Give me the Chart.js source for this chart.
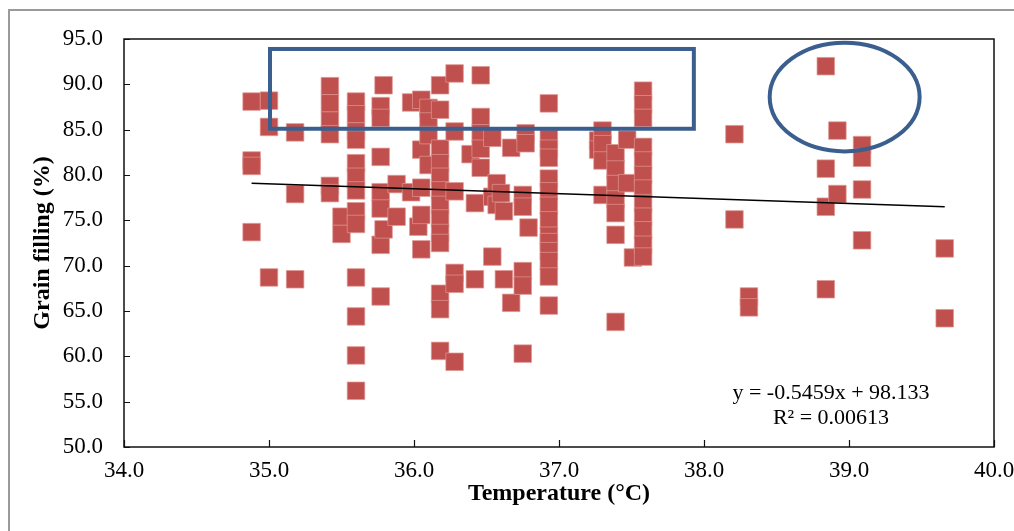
<!DOCTYPE html>
<html><head><meta charset="utf-8">
<script src="https://cdn.jsdelivr.net/npm/chart.js@4.4.0/dist/chart.umd.min.js"></script>
<style>html,body{margin:0;padding:0;background:#fff}#wrap{width:1014px;height:531px;position:relative}</style>
</head><body><div id="wrap"><canvas id="c" width="1014" height="531"></canvas></div>
<script>
// Temperature (°C) of each observation
const temperature = [
  34.88,34.88,34.88,34.88,
  35.0,35.0,35.0,
  35.18,35.18,35.18,
  35.42,35.42,35.42,35.42,35.42,35.42,
  35.5,35.5,
  35.6,35.6,35.6,35.6,35.6,35.6,35.6,35.6,35.6,35.6,35.6,35.6,35.6,
  35.77,35.77,35.77,35.77,35.77,35.77,35.77,
  35.79,35.79,
  35.88,35.88,
  35.98,35.98,
  36.03,
  36.05,36.05,36.05,36.05,36.05,
  36.1,36.1,36.1,36.1,
  36.18,36.18,36.18,36.18,36.18,36.18,36.18,36.18,36.18,36.18,36.18,36.18,36.18,
  36.28,36.28,36.28,36.28,36.28,36.28,
  36.39,
  36.42,36.42,
  36.46,36.46,36.46,36.46,36.46,
  36.54,36.54,36.54,
  36.57,36.57,
  36.6,
  36.62,36.62,
  36.67,36.67,
  36.75,36.75,36.75,36.75,36.75,
  36.77,36.77,
  36.79,
  36.93,36.93,36.93,36.93,36.93,36.93,36.93,36.93,36.93,36.93,36.93,36.93,36.93,36.93,
  37.27,37.27,
  37.3,37.3,37.3,37.3,
  37.39,37.39,37.39,37.39,37.39,37.39,37.39,
  37.47,37.47,
  37.51,
  37.58,37.58,37.58,37.58,37.58,37.58,37.58,37.58,37.58,37.58,37.58,37.58,
  38.21,38.21,
  38.31,38.31,
  38.84,38.84,38.84,38.84,
  38.92,38.92,
  39.09,39.09,39.09,39.09,
  39.66,39.66
];
// Grain filling (%) of each observation
const grainFilling = [
  88.1,81.6,81.0,73.7,
  88.2,85.3,68.7,
  84.7,77.9,68.5,
  89.8,87.9,86.0,84.5,78.8,78.0,
  75.4,73.5,
  88.1,86.7,84.8,83.9,81.3,79.8,78.3,76.0,74.6,68.7,64.4,60.1,56.2,
  87.6,86.3,82.0,78.1,76.3,72.3,66.6,
  89.9,74.0,
  79.0,75.4,
  88.0,78.1,
  74.3,
  88.3,82.8,78.6,75.6,71.8,
  87.4,85.9,84.4,81.1,
  89.9,87.2,82.9,81.3,79.8,78.3,76.7,75.2,73.6,72.5,66.9,65.2,60.6,
  91.2,84.8,78.2,69.2,68.0,59.4,
  82.3,
  76.9,68.5,
  91.0,86.4,84.6,82.9,80.8,
  84.1,77.6,71.0,
  79.1,76.7,
  78.0,
  76.0,68.5,
  83.0,65.9,
  77.8,76.5,69.4,67.8,60.3,
  84.6,83.5,
  74.2,
  87.9,84.0,82.9,81.9,79.6,78.2,76.6,75.0,73.3,72.6,71.6,70.5,68.8,65.6,
  83.8,82.8,
  84.9,83.4,81.6,77.8,
  82.4,80.6,79.0,77.3,75.8,73.4,63.8,
  83.9,79.1,
  70.9,
  89.3,87.8,86.3,83.1,81.6,80.0,78.5,76.9,75.4,73.9,72.3,71.0,
  84.5,75.1,
  66.6,65.4,
  92.0,80.7,76.5,67.4,
  84.9,77.9,
  83.3,81.9,78.4,72.8,
  71.9,64.2
];
// Linear trendline end points
const trendX = [34.88, 39.66];
const trendY = [79.1, 76.5];
const equationText = ['y = -0.5459x + 98.133', 'R\u00B2 = 0.00613'];
const xTitle = 'Temperature (\u00B0C)';
const yTitle = 'Grain filling (%)';
// Highlight shapes in data units
const boxX = [35.007, 37.93], boxY = [93.9, 85.1];
const ellipseC = [38.97, 88.6], ellipseR = [0.517, 6.0];

const points = temperature.map((t, i) => ({x: t, y: grainFilling[i]}));
const trend = trendX.map((t, i) => ({x: t, y: trendY[i]}));

const serif = "'Liberation Serif','Times New Roman',serif";

const decor = {
  id: 'decor',
  beforeDraw(chart) {
    const ctx = chart.ctx;
    ctx.save();
    ctx.fillStyle = '#fff';
    ctx.fillRect(0, 0, chart.width, chart.height);
    ctx.strokeStyle = '#9a9a9a';
    ctx.lineWidth = 2;
    ctx.beginPath();
    ctx.moveTo(9, chart.height);
    ctx.lineTo(9, 10);
    ctx.lineTo(chart.width, 10);
    ctx.stroke();
    ctx.restore();
  },
  afterDraw(chart) {
    const ctx = chart.ctx, a = chart.chartArea;
    const xs = chart.scales.x, ys = chart.scales.y;
    ctx.save();
    // plot frame
    ctx.strokeStyle = '#111';
    ctx.lineWidth = 1.5;
    ctx.strokeRect(a.left, a.top, a.right - a.left, a.bottom - a.top);
    // inside tick marks
    ctx.lineWidth = 1.2;
    ctx.beginPath();
    ys.ticks.forEach(t => {
      const p = Math.round(ys.getPixelForValue(t.value)) + 0.5;
      ctx.moveTo(a.left, p); ctx.lineTo(a.left + 6, p);
    });
    xs.ticks.forEach(t => {
      const p = Math.round(xs.getPixelForValue(t.value)) + 0.5;
      ctx.moveTo(p, a.bottom); ctx.lineTo(p, a.bottom - 7);
    });
    ctx.stroke();
    // highlight rectangle
    ctx.strokeStyle = '#3A5F8F';
    ctx.lineWidth = 4;
    const rx0 = xs.getPixelForValue(boxX[0]), rx1 = xs.getPixelForValue(boxX[1]);
    const ry0 = ys.getPixelForValue(boxY[0]), ry1 = ys.getPixelForValue(boxY[1]);
    ctx.strokeRect(rx0, ry0, rx1 - rx0, ry1 - ry0);
    // highlight ellipse
    const cx = xs.getPixelForValue(ellipseC[0]), cy = ys.getPixelForValue(ellipseC[1]);
    const erx = xs.getPixelForValue(ellipseC[0] + ellipseR[0]) - cx;
    const ery = cy - ys.getPixelForValue(ellipseC[1] + ellipseR[1]);
    ctx.beginPath();
    ctx.ellipse(cx, cy, erx, ery, 0, 0, Math.PI * 2);
    ctx.stroke();
    // equation
    ctx.fillStyle = '#000';
    ctx.font = "22px " + serif;
    ctx.textAlign = 'center';
    ctx.textBaseline = 'middle';
    ctx.fillText(equationText[0], 831, 393);
    ctx.fillText(equationText[1], 831, 418);
    ctx.restore();
  }
};

new Chart(document.getElementById('c'), {
  type: 'scatter',
  data: {
    datasets: [
      {
        type: 'line', data: trend, borderColor: '#000', borderWidth: 1.5,
        pointRadius: 0, fill: false, tension: 0
      },
      {
        data: points, pointStyle: 'rect', pointRadius: 12.4, pointHoverRadius: 12.4,
        backgroundColor: '#BF504D', borderColor: 'rgba(225,150,148,0.9)', borderWidth: 0.8
      }
    ]
  },
  options: {
    responsive: false, animation: false,
    layout: {padding: {left: 0, top: 39, right: 20, bottom: 0}},
    plugins: {legend: {display: false}, tooltip: {enabled: false}},
    scales: {
      x: {
        type: 'linear', min: 34, max: 40,
        afterFit(s) { s.height = 84; s.paddingRight = 0; },
        grid: {display: false, drawTicks: false},
        border: {display: false},
        ticks: {stepSize: 1, padding: 10, color: '#000', maxRotation: 0,
          font: {family: serif, size: 23}, callback: v => v.toFixed(1)},
        title: {display: true, text: xTitle, color: '#000',
          font: {family: serif, size: 24, weight: 'bold'}, padding: {top: 0, bottom: 23}}
      },
      y: {
        type: 'linear', min: 50, max: 95,
        afterFit(s) { s.width = 124; },
        grid: {display: false, drawTicks: false},
        border: {display: false},
        ticks: {stepSize: 5, padding: 21, color: '#000',
          font: {family: serif, size: 23}, callback: v => v.toFixed(1)},
        title: {display: true, text: yTitle, color: '#000',
          font: {family: serif, size: 24, weight: 'bold'}, padding: {top: 28, bottom: 0}}
      }
    }
  },
  plugins: [decor]
});
</script>
</body></html>
